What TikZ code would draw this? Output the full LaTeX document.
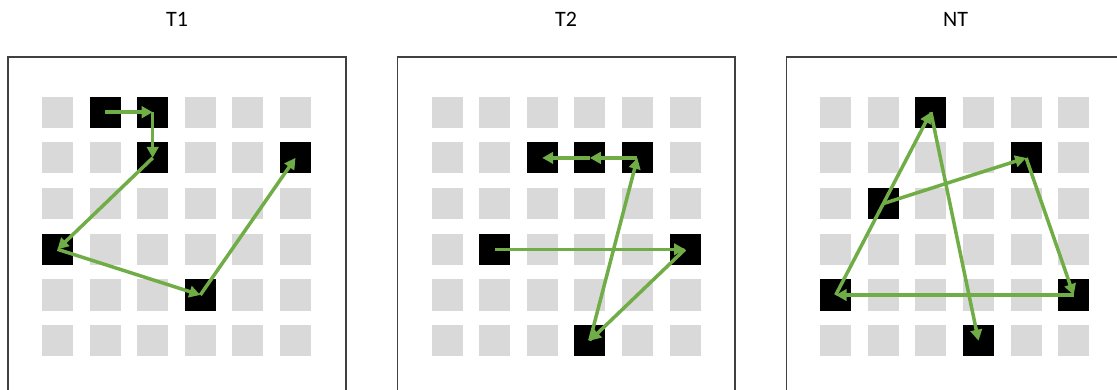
\documentclass[tikz,border=0pt]{standalone}
\usepackage{fontspec}
\setmainfont{Carlito}
\usetikzlibrary{arrows.meta}
\definecolor{cellgray}{RGB}{217,217,217}
\definecolor{movegreen}{RGB}{112,173,71}
\definecolor{framegray}{RGB}{64,64,64}
\tikzset{
  cell/.style={fill=cellgray, minimum size=31pt, inner sep=0pt},
  target/.style={cell, fill=black},
  move/.style={-{Triangle[length=11pt,width=11.5pt]}, line width=3.5pt, movegreen},
  panel/.style={draw=framegray, line width=1.1pt},
  title/.style={font=\fontsize{22}{26}\selectfont},
  grid6/.style={x=47.6pt, y=-45.7pt},
}

\begin{document}
\begin{tikzpicture}[x=1pt,y=-1pt]

  \useasboundingbox (0,0) rectangle (1117,390);
  \clip (0,0) rectangle (1117,390);

  % titles
  \node[title] (tone) at (177,19.5) {T1};
  \node[title] (ttwo) at (566,19.5) {T2};
  \node[title] (tnt) at (955.5,19.5) {NT};

  % frames
  \draw[panel] (8,57) rectangle (346,400);
  \draw[panel] (397.3,57) rectangle (735,400);
  \draw[panel] (786.7,57) rectangle (1124.4,400);

  % T1
  \begin{scope}[shift={(57.5pt,-112.2pt)}, grid6]
    \foreach \c in {0,...,5}
      \foreach \r in {0,...,5}
        \node[cell] at (\c,\r) {};
    \node[target] (a1) at (1,0) {};
    \node[target] (a2) at (2,0) {};
    \node[target] (a3) at (2,1) {};
    \node[target] (a4) at (0,3) {};
    \node[target] (a5) at (3,4) {};
    \node[target] (a6) at (5,1) {};
    \draw[move] (a1.center) -- (a2.center);
    \draw[move] (a2.center) -- (a3.center);
    \draw[move] (a3.center) -- (a4.center);
    \draw[move] (a4.center) -- (a5.center);
    \draw[move] (a5.center) -- (a6.center);
  \end{scope}

  % T2
  \begin{scope}[shift={(447pt,-112.2pt)}, grid6]
    \foreach \c in {0,...,5}
      \foreach \r in {0,...,5}
        \node[cell] at (\c,\r) {};
    \node[target] (b1) at (1,3) {};
    \node[target] (b2) at (5,3) {};
    \node[target] (b3) at (3,5) {};
    \node[target] (b4) at (4,1) {};
    \node[target] (b5) at (3,1) {};
    \node[target] (b6) at (2,1) {};
    \draw[move] (b1.center) -- (b2.center);
    \draw[move] (b2.center) -- (b3.center);
    \draw[move] (b3.center) -- (b4.center);
    \draw[move] (b4.center) -- (b5.center);
    \draw[move] (b5.center) -- (b6.center);
  \end{scope}

  % NT
  \begin{scope}[shift={(835.7pt,-112.2pt)}, grid6]
    \foreach \c in {0,...,5}
      \foreach \r in {0,...,5}
        \node[cell] at (\c,\r) {};
    \node[target] (c1) at (1,2) {};
    \node[target] (c2) at (4,1) {};
    \node[target] (c3) at (5,4) {};
    \node[target] (c4) at (0,4) {};
    \node[target] (c5) at (2,0) {};
    \node[target] (c6) at (3,5) {};
    \draw[move] (c1.center) -- (c2.center);
    \draw[move] (c2.center) -- (c3.center);
    \draw[move] (c3.center) -- (c4.center);
    \draw[move] (c4.center) -- (c5.center);
    \draw[move] (c5.center) -- (c6.center);
  \end{scope}

\end{tikzpicture}
\end{document}
